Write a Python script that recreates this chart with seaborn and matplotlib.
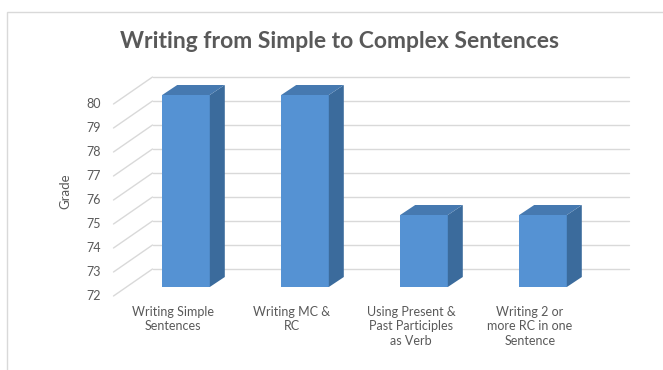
import numpy as np
import matplotlib
matplotlib.use("Agg")
import matplotlib.pyplot as plt
from matplotlib.patches import Polygon, Rectangle
import seaborn as sns

sns.set_style("white")
plt.rcParams['font.family'] = ['Lato', 'DejaVu Sans']

# data
categories = ["Writing Simple Sentences", "Writing MC & RC",
              "Using Present & Past Participles as Verb",
              "Writing 2 or more RC in one Sentence"]
tick_labels = ["Writing Simple\nSentences", "Writing MC &\nRC",
               "Using Present &\nPast Participles\nas Verb",
               "Writing 2 or\nmore RC in one\nSentence"]
grades = [80, 80, 75, 75]
y_ticks = [72, 73, 74, 75, 76, 77, 78, 79, 80]

FRONT = "#5592d3"
SIDE = "#3b6b9c"
TOP = "#4679b0"
GRID = "#d9d9d9"
TXT = "#595959"

fig = plt.figure(figsize=(6.63, 3.70), dpi=100)
W, H = 663, 370

# chart border
fig.patches.append(Rectangle((7 / W, -0.1), 1.1, 1 - 12 / H + 0.1, transform=fig.transFigure,
                             fill=False, edgecolor="#d9d9d9", linewidth=1))

ax = fig.add_axes([126.5 / W, (H - 287) / H, 476 / W, 192 / H])
sns.barplot(x=categories, y=grades, color=FRONT, width=0.4, linewidth=0,
            saturation=1, ax=ax, zorder=3)
ax.set_ylim(72, 80)
ax.set_xlim(-0.5, 3.5)
ax.axis("off")


def px(dx, dy):
    # convert a pixel offset into data units
    p0 = ax.transData.transform((0, 72))
    p1 = ax.transData.inverted().transform(p0 + np.array([dx, dy]))
    return p1[0], p1[1] - 72


# 3D depth of bars, back wall and front floor edge
bdx, bdy = px(15, 10)
wdx, wdy = px(26, 18)
fdx, fdy = px(-13, -9)
x0, x1 = ax.get_xlim()

# back wall gridlines and left wall lines
for t in y_ticks:
    ax.plot([x0 + wdx, x1 + wdx], [t + wdy, t + wdy], color=GRID, lw=1,
            clip_on=False, zorder=0)
    ax.plot([x0 + fdx, x0 + wdx], [t + fdy, t + wdy], color=GRID, lw=1,
            clip_on=False, zorder=0)
    ax.text(x0 + fdx + px(-13, 0)[0], t + fdy, str(t), ha="right", va="center",
            fontsize=9, color=TXT)

# side and top faces of the bars
for p, g in zip(ax.patches, grades):
    bx0 = p.get_x()
    bx1 = bx0 + p.get_width()
    side = [(bx1, 72), (bx1, g), (bx1 + bdx, g + bdy), (bx1 + bdx, 72 + bdy)]
    top = [(bx0, g), (bx1, g), (bx1 + bdx, g + bdy), (bx0 + bdx, g + bdy)]
    ax.add_patch(Polygon(side, closed=True, facecolor=SIDE, edgecolor="none",
                         clip_on=False, zorder=3))
    ax.add_patch(Polygon(top, closed=True, facecolor=TOP, edgecolor="none",
                         clip_on=False, zorder=3))

# category labels on the front floor
lx, ly = px(-13, -19)
for i, lab in enumerate(tick_labels):
    ax.text(i + lx, 72 + ly, lab, ha="center", va="top", fontsize=9,
            color=TXT, linespacing=1.25)

ax.text(x0 + px(-61, 0)[0], 76, "Grade", rotation=90, ha="center", va="center",
        fontsize=9.5, color=TXT)

fig.text(340 / W, 1 - 42 / H, "Writing from Simple to Complex Sentences",
         ha="center", va="center", fontsize=16.5, color=TXT, fontweight="bold")

fig.savefig("out.png", dpi=100)
